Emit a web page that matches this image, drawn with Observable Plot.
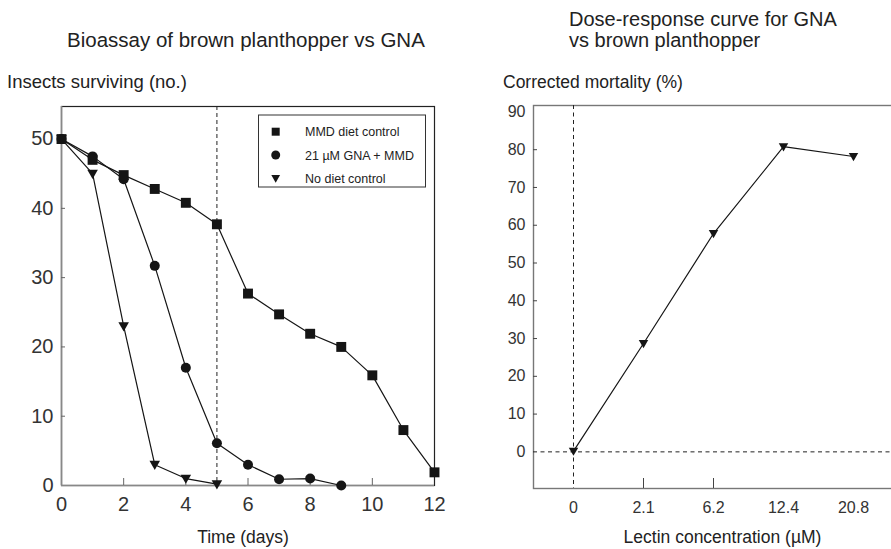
<!DOCTYPE html>
<html><head><meta charset="utf-8">
<script src="https://cdn.jsdelivr.net/npm/d3@7"></script>
<script src="https://cdn.jsdelivr.net/npm/@observablehq/plot@0.6"></script>
<style>
html,body{margin:0;padding:0;background:#fff;overflow:hidden}
#wrap{position:relative;width:891px;height:549px;overflow:hidden;font-family:"Liberation Sans",Arial,sans-serif;color:#222}
#wrap svg{position:absolute}
</style></head><body><div id="wrap"></div>
<script>
// ---- Data: left chart (insects surviving, no.) ----
const mmdDays = [0,1,2,3,4,5,6,7,8,9,10,11,12];
const mmdControl = [50,47,44.8,42.8,40.8,37.7,27.7,24.7,21.9,20,15.9,8,1.9];
const gnaDays = [0,1,2,3,4,5,6,7,8,9];
const gna21 = [50,47.5,44.2,31.7,17,6.1,3,0.9,1,0];
const noDietDays = [0,1,2,3,4,5];
const noDiet = [50,45,23,3,1,0.2];
const seriesNames = ["MMD diet control","21 \u00b5M GNA + MMD","No diet control"];
const timeTicks = [0,2,4,6,8,10,12];
const timeMinorTicks = [2,4,6,8,10];
const survTicks = [0,10,20,30,40,50];
const survMinorTicks = [10,20,30,40];

// ---- Data: right chart (corrected mortality, %) ----
const lectinConc = ["0","2.1","6.2","12.4","20.8"];
const mortality = [0.2,28.7,57.8,80.8,78.2];
const mortTicks = [0,10,20,30,40,50,60,70,80,90];
const mortMinorTicks = [10,20,30,40,50,60,70,80];
const concMinorTicks = ["2.1","6.2"];

const FONT = "'Liberation Sans', Arial, sans-serif";
const INK = "#151515";

const triangleDown = {
  draw(ctx, size) {
    const s = Math.sqrt(size / Math.PI);
    ctx.moveTo(-1.1 * s, -0.8 * s);
    ctx.lineTo(1.1 * s, -0.8 * s);
    ctx.lineTo(0, 1.1 * s);
    ctx.closePath();
  }
};

const toRows = (xs, ys) => xs.map((x, i) => ({x, y: ys[i]}));
const mmdRows = toRows(mmdDays, mmdControl);
const gnaRows = toRows(gnaDays, gna21);
const noDietRows = toRows(noDietDays, noDiet);
const mortRows = toRows(lectinConc, mortality);

const wrap = document.getElementById("wrap");

const left = Plot.plot({
  width: 450, height: 549,
  marginLeft: 61, marginRight: 16, marginTop: 106, marginBottom: 64,
  x: {domain: [0, 12]},
  y: {domain: [0, 54.7]},
  style: {fontFamily: FONT, color: "#333", background: "transparent", overflow: "visible"},
  marks: [
    Plot.frame({stroke: "#222", strokeWidth: 1.2}),
    Plot.ruleX([0], {stroke: "#888", strokeWidth: 1.6}),
    Plot.ruleY([0], {stroke: "#888", strokeWidth: 1.6}),
    Plot.ruleX([5], {stroke: "#222", strokeWidth: 1, strokeDasharray: "4,3"}),
    Plot.axisX(timeTicks, {tickSize: 0, tickPadding: 11, fontSize: 20, label: null}),
    Plot.axisX(timeMinorTicks, {tickSize: -7, text: null, label: null, stroke: "#666"}),
    Plot.axisY(survTicks, {tickSize: 0, tickPadding: 8, fontSize: 20, label: null}),
    Plot.axisY(survMinorTicks, {tickSize: -4, text: null, label: null, stroke: "#666"}),
    Plot.line(mmdRows, {x: "x", y: "y", stroke: INK, strokeWidth: 1.2}),
    Plot.line(gnaRows, {x: "x", y: "y", stroke: INK, strokeWidth: 1.2}),
    Plot.line(noDietRows, {x: "x", y: "y", stroke: INK, strokeWidth: 1.2}),
    Plot.dot(noDietRows, {x: "x", y: "y", symbol: triangleDown, fill: INK, r: 4.8}),
    Plot.dot(gnaRows, {x: "x", y: "y", symbol: "circle", fill: INK, r: 5}),
    Plot.dot(mmdRows, {x: "x", y: "y", symbol: "square", fill: INK, r: 5.6})
  ]
});
left.style.left = "0px"; left.style.top = "0px";
wrap.appendChild(left);

const right = Plot.plot({
  width: 442, height: 549,
  marginLeft: 83, marginRight: 0, marginTop: 105, marginBottom: 61,
  x: {type: "point", domain: lectinConc, padding: 0.53},
  y: {domain: [-9.7, 91.7]},
  style: {fontFamily: FONT, color: "#333", background: "transparent", overflow: "visible"},
  marks: [
    Plot.frame({stroke: "#777", strokeWidth: 1.4}),
    Plot.ruleX(["0"], {stroke: "#222", strokeWidth: 1, strokeDasharray: "4,3.5"}),
    Plot.ruleY([0], {stroke: "#222", strokeWidth: 1, strokeDasharray: "4,3.5"}),
    Plot.axisX(lectinConc, {tickSize: 0, tickPadding: 13, fontSize: 16, label: null}),
    Plot.axisX(concMinorTicks, {tickSize: -10, text: null, label: null, stroke: "#444"}),
    Plot.axisY(mortTicks, {tickSize: 0, tickPadding: 8, fontSize: 16, label: null}),
    Plot.axisY(mortMinorTicks, {tickSize: -4, text: null, label: null, stroke: "#444"}),
    Plot.line(mortRows, {x: "x", y: "y", stroke: INK, strokeWidth: 1.2}),
    Plot.dot(mortRows, {x: "x", y: "y", symbol: triangleDown, fill: INK, r: 4.3})
  ]
});
right.style.left = "450px"; right.style.top = "0px";
wrap.appendChild(right);

// ---- titles and axis titles ----
const ov = d3.select(wrap).append("svg")
  .attr("width", 891).attr("height", 549)
  .style("left", "0px").style("top", "0px")
  .style("font-family", FONT).attr("fill", "#222");
const texts = [
  {t: "Bioassay of brown planthopper vs GNA", x: 67, y: 47, s: 20.5, a: "start"},
  {t: "Insects surviving (no.)", x: 7, y: 88, s: 18.5, a: "start"},
  {t: "Dose-response curve for GNA", x: 569, y: 26, s: 20, a: "start"},
  {t: "vs brown planthopper", x: 569, y: 46.5, s: 20, a: "start"},
  {t: "Corrected mortality (%)", x: 503, y: 88, s: 17.5, a: "start"},
  {t: "Time (days)", x: 243, y: 543, s: 17.5, a: "middle"},
  {t: "Lectin concentration (\u00b5M)", x: 722.5, y: 543, s: 17.5, a: "middle"}
];
ov.selectAll("text").data(texts).join("text")
  .attr("x", d => d.x).attr("y", d => d.y)
  .attr("font-size", d => d.s).attr("text-anchor", d => d.a)
  .text(d => d.t);

// ---- legend ----
const lg = d3.select(wrap).append("svg")
  .attr("width", 170).attr("height", 74)
  .style("left", "258px").style("top", "114px")
  .style("font-family", FONT);
lg.append("rect").attr("x", 0.5).attr("y", 1).attr("width", 167).attr("height", 72)
  .attr("fill", "#fff").attr("stroke", "#333").attr("stroke-width", 1);
const legSyms = [d3.symbolSquare, d3.symbolCircle, triangleDown];
const legSizes = [64, 20 * Math.PI, 16 * Math.PI];
seriesNames.forEach((name, i) => {
  const cy = 17.7 + i * 23.3;
  lg.append("path").attr("transform", `translate(17.7,${cy})`)
    .attr("d", d3.symbol(legSyms[i], legSizes[i])()).attr("fill", INK);
  lg.append("text").attr("x", 47).attr("y", cy + 4.5)
    .attr("font-size", 12.5).attr("fill", "#222").text(name);
});
</script></body></html>
